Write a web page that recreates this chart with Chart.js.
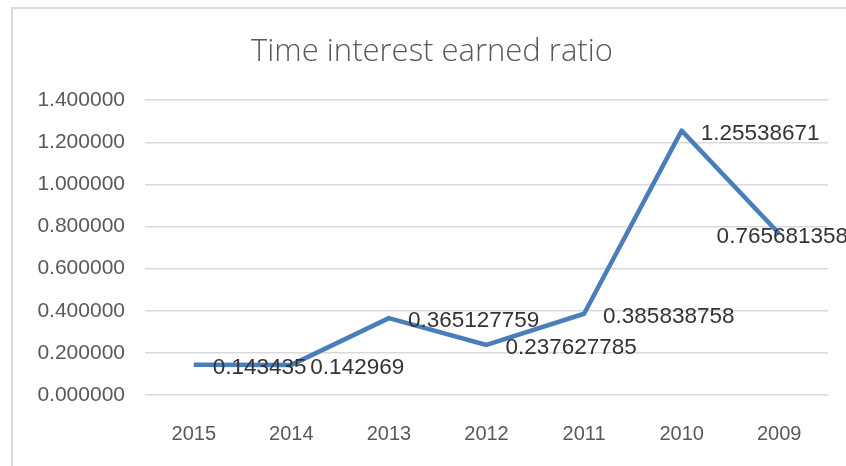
<!DOCTYPE html>
<html>
<head>
<meta charset="utf-8">
<script src="https://cdn.jsdelivr.net/npm/chart.js@4/dist/chart.umd.min.js"></script>
<style>
html,body{margin:0;padding:0;background:#fff;}
#wrap{width:846px;height:466px;position:relative;}
</style>
</head>
<body>
<div id="wrap"><canvas id="c" width="846" height="466"></canvas></div>
<script>
const categories = ["2015", "2014", "2013", "2012", "2011", "2010", "2009"];
const ratioValues = [0.143435, 0.142969, 0.365127759, 0.237627785, 0.385838758, 1.25538671, 0.765681358];
const valueLabels = ["0.143435", "0.142969", "0.365127759", "0.237627785", "0.385838758", "1.25538671", "0.765681358"];
const yTicks = [0, 0.2, 0.4, 0.6, 0.8, 1.0, 1.2, 1.4];

const FONT = "'Liberation Sans', Arial, sans-serif";

const frame = {
  id: 'frame',
  beforeDraw(chart) {
    const ctx = chart.ctx;
    ctx.save();
    ctx.fillStyle = '#ffffff';
    ctx.fillRect(0, 0, chart.width, chart.height);
    ctx.strokeStyle = '#d9d9d9';
    ctx.lineWidth = 2;
    ctx.strokeRect(12, 8, chart.width + 20, chart.height + 20);
    ctx.restore();
  }
};

const dataLabels = {
  id: 'dataLabels',
  afterDatasetsDraw(chart) {
    const ctx = chart.ctx;
    const meta = chart.getDatasetMeta(0);
    ctx.save();
    ctx.font = "22.5px " + FONT;
    ctx.fillStyle = '#333333';
    ctx.textBaseline = 'middle';
    ctx.textAlign = 'left';
    meta.data.forEach((pt, i) => {
      const txt = valueLabels[i];
      const w = ctx.measureText(txt).width;
      let x = pt.x + 19;
      if (x + w > chart.width + 2) x = chart.width + 2 - w;
      ctx.fillText(txt, x, pt.y + 3);
    });
    ctx.restore();
  }
};

new Chart(document.getElementById('c'), {
  type: 'line',
  data: {
    labels: categories,
    datasets: [{
      data: ratioValues,
      borderColor: '#4a7ebb',
      borderWidth: 4.5,
      pointRadius: 0,
      tension: 0,
      fill: false,
      borderJoinStyle: 'round'
    }]
  },
  options: {
    responsive: false,
    animation: false,
    layout: { padding: { left: 36, right: 18, top: 0, bottom: 0 } },
    plugins: {
      legend: { display: false },
      tooltip: { enabled: false },
      title: {
        display: true,
        text: 'Time interest earned ratio',
        color: '#595959',
        font: { family: "'Open Sans', sans-serif", size: 31, weight: '300' },
        padding: { top: 34, bottom: 29 }
      }
    },
    scales: {
      x: {
        offset: true,
        grid: { display: false, drawTicks: false },
        border: { display: false },
        ticks: { color: '#595959', font: { family: FONT, size: 20 }, padding: 27, maxRotation: 0 },
        afterFit(s) { s.height = 71; }
      },
      y: {
        min: 0, max: 1.4,
        afterBuildTicks(s) { s.ticks = yTicks.map(v => ({ value: v })); },
        grid: { color: '#d9d9d9', lineWidth: 1.5, drawTicks: false },
        border: { display: false },
        ticks: {
          color: '#595959',
          font: { family: FONT, size: 21 },
          padding: 20,
          callback: (v) => Number(v).toFixed(6)
        },
        afterFit(s) { s.width = 109; }
      }
    }
  },
  plugins: [frame, dataLabels]
});
</script>
</body>
</html>
